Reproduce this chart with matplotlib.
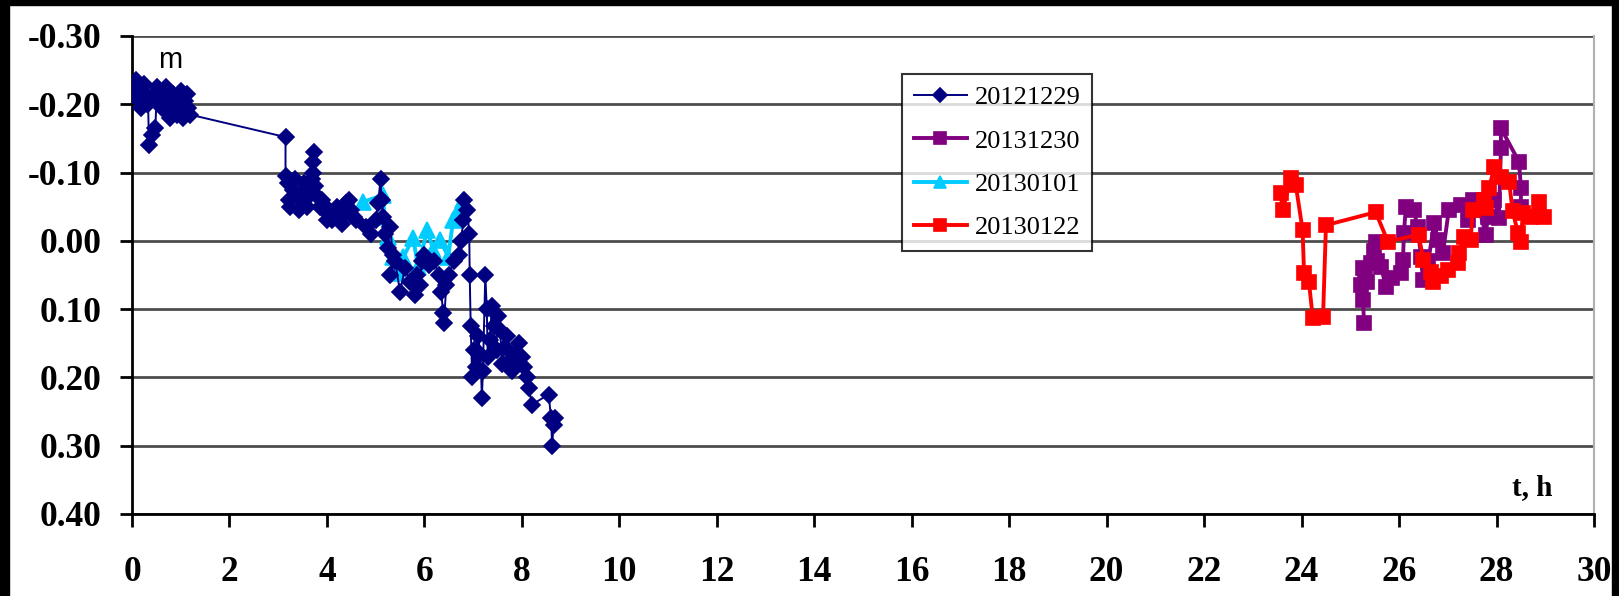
import matplotlib
matplotlib.use("Agg")
import matplotlib.pyplot as plt
from matplotlib.ticker import FormatStrFormatter
from matplotlib.patches import Rectangle

# Series 20121229 (time in hours, displacement in m)
t_1229 = [0.00, 0.05, 0.08, 0.12, 0.15, 0.18, 0.22, 0.25, 0.28, 0.30,
          0.33, 0.35, 0.42, 0.48, 0.50, 0.52, 0.58, 0.62, 0.65, 0.70,
          0.72, 0.78, 0.80, 0.85, 0.88, 0.92, 0.95, 1.00, 1.02, 1.05,
          1.08, 1.12, 1.15, 1.18,
          3.15, 3.15, 3.20, 3.22, 3.25, 3.30, 3.35, 3.38, 3.42, 3.48,
          3.52, 3.55, 3.60, 3.65, 3.70, 3.72, 3.72, 3.73, 3.75, 3.80,
          3.85, 3.90, 3.95, 4.00, 4.05, 4.10, 4.15, 4.20, 4.25, 4.30,
          4.35, 4.40, 4.45, 4.50, 4.55, 4.60,
          4.80, 4.90, 5.00, 5.05, 5.10, 5.12, 5.15, 5.20, 5.25, 5.30,
          5.35, 5.30, 5.40, 5.50, 5.60, 5.70, 5.80, 5.85, 5.90, 5.95,
          6.00, 6.10, 6.20, 6.30, 6.35, 6.38, 6.40, 6.45, 6.50, 6.60,
          6.70, 6.75, 6.80, 6.82, 6.88, 6.92, 6.93, 6.95, 6.98, 7.02,
          7.05, 7.10, 7.15, 7.18, 7.20, 7.25, 7.28, 7.30, 7.35, 7.38,
          7.42, 7.48, 7.50, 7.55, 7.60, 7.65, 7.70, 7.75, 7.80, 7.85,
          7.90, 7.95, 8.00, 8.05, 8.10, 8.15, 8.20, 8.55, 8.60, 8.62,
          8.65, 8.68]
v_1229 = [-0.215, -0.225, -0.235, -0.220, -0.205, -0.195, -0.210, -0.230, -0.215, -0.200,
          -0.200, -0.140, -0.155, -0.165, -0.205, -0.225, -0.220, -0.195, -0.210, -0.225,
          -0.190, -0.180, -0.200, -0.215, -0.195, -0.185, -0.205, -0.220, -0.195, -0.180,
          -0.205, -0.215, -0.195, -0.185,
          -0.152, -0.095, -0.085, -0.060, -0.050, -0.075, -0.090, -0.065, -0.045, -0.070,
          -0.085, -0.060, -0.050, -0.075, -0.090, -0.100, -0.115, -0.130, -0.080, -0.065,
          -0.050, -0.060, -0.045, -0.030, -0.045, -0.030, -0.040, -0.050, -0.035, -0.025,
          -0.040, -0.055, -0.060, -0.045, -0.035, -0.030,
          -0.020, -0.010, -0.030, -0.055, -0.090, -0.060, -0.035, -0.010, 0.010, -0.020,
          0.020, 0.050, 0.030, 0.075, 0.040, 0.060, 0.080, 0.050, 0.065, 0.030,
          0.020, 0.035, 0.030, 0.050, 0.075, 0.105, 0.120, 0.065, 0.050, 0.030,
          0.020, 0.000, -0.030, -0.060, -0.045, -0.010, 0.050, 0.125, 0.200, 0.160,
          0.185, 0.140, 0.165, 0.230, 0.190, 0.050, 0.100, 0.170, 0.145, 0.095,
          0.125, 0.160, 0.110, 0.130, 0.180, 0.155, 0.140, 0.175, 0.190, 0.165,
          0.180, 0.150, 0.170, 0.185, 0.200, 0.215, 0.240, 0.225, 0.260, 0.300,
          0.270, 0.260]

# Series 20131230
t_1230 = [25.28, 25.26, 25.22, 25.30, 25.25, 25.35, 25.42, 25.48, 25.52, 25.55,
          25.63, 25.73, 25.85, 26.04, 26.08, 26.10, 26.14, 26.30, 26.38, 26.45,
          26.49, 26.60, 26.72, 26.80, 26.90, 27.02, 27.27, 27.41, 27.51, 27.65,
          27.78, 27.82, 27.95, 28.05, 28.09, 28.09, 28.46, 28.50, 28.50]
v_1230 = [0.120, 0.086, 0.065, 0.052, 0.040, 0.060, 0.032, 0.015, 0.001, 0.030,
          0.038, 0.067, 0.055, 0.047, 0.028, -0.012, -0.050, -0.045, -0.021, 0.023,
          0.057, 0.030, -0.026, -0.001, 0.018, -0.045, -0.052, -0.031, -0.060, -0.045,
          -0.009, -0.035, -0.060, -0.034, -0.136, -0.165, -0.116, -0.078, -0.050]

# Series 20130101
t_0101 = [4.74, 5.15, 5.18, 5.26, 5.36, 5.44, 5.57, 5.77, 5.87, 6.06,
          6.18, 6.32, 6.49, 6.59, 6.73, 6.80]
v_0101 = [-0.057, -0.067, -0.035, -0.006, 0.023, 0.047, 0.023, -0.004, 0.038, -0.016,
          0.013, -0.001, 0.023, -0.031, -0.050, -0.060]

# Series 20130122
t_0122 = [23.57, 23.61, 23.78, 23.88, 24.02, 24.05, 24.15, 24.23, 24.44, 24.50,
          25.52, 25.77, 26.40, 26.50, 26.65, 26.70, 26.86, 27.00, 27.20, 27.23,
          27.33, 27.47, 27.51, 27.74, 27.78, 27.85, 27.95, 28.09, 28.26, 28.33,
          28.44, 28.50, 28.54, 28.70, 28.87, 28.97]
v_0122 = [-0.070, -0.045, -0.092, -0.082, -0.016, 0.047, 0.060, 0.113, 0.111, -0.023,
          -0.042, 0.001, -0.009, 0.028, 0.045, 0.060, 0.052, 0.042, 0.032, 0.018,
          -0.006, -0.001, -0.045, -0.060, -0.048, -0.077, -0.108, -0.094, -0.086, -0.043,
          -0.012, 0.001, -0.041, -0.035, -0.057, -0.035]

x_ticks = list(range(0, 31, 2))
y_ticks = [-0.30, -0.20, -0.10, 0.00, 0.10, 0.20, 0.30, 0.40]

fig = plt.figure(figsize=(16.19, 5.96), dpi=100, facecolor="white")
ax = fig.add_axes([132 / 1619, 1 - 514 / 596, (1594 - 132) / 1619, (514 - 36) / 596])

# black frame around the left, top and right edges of the figure
fig.patches.append(Rectangle((0, 0), 9 / 1619, 1, transform=fig.transFigure,
                             color="black", zorder=0))
fig.patches.append(Rectangle((0, 1 - 5 / 596), 1, 5 / 596, transform=fig.transFigure,
                             color="black", zorder=0))
fig.patches.append(Rectangle((1 - 7 / 1619, 0), 7 / 1619, 1, transform=fig.transFigure,
                             color="black", zorder=0))

ax.plot(t_1229, v_1229, color="#000080", lw=1.4, marker="D", ms=8.5, mew=1.2,
        label="20121229", zorder=5)
ax.plot(t_1230, v_1230, color="#800080", lw=2.8, marker="s", ms=10, mew=1.2,
        label="20131230", zorder=3)
ax.plot(t_0101, v_0101, color="#00CCFF", lw=2.8, marker="^", ms=11, mew=1.2,
        label="20130101", zorder=4)
ax.plot(t_0122, v_0122, color="#FF0000", lw=2.8, marker="s", ms=10.5, mew=1.2,
        label="20130122", zorder=4)

ax.set_xlim(0, 30)
ax.set_ylim(0.40, -0.30)
ax.set_xticks(x_ticks)
ax.set_yticks(y_ticks)
ax.yaxis.set_major_formatter(FormatStrFormatter("%.2f"))
ax.grid(axis="y", color="#4d4d4d", lw=2.0)
ax.set_axisbelow(True)

for side in ("left", "bottom"):
    ax.spines[side].set_color("black")
    ax.spines[side].set_linewidth(2.0)
ax.spines["top"].set_visible(False)
ax.spines["right"].set_color("#b0b0b0")
ax.spines["right"].set_linewidth(1.5)

ax.tick_params(axis="both", direction="out", length=9, width=2.0, color="black")
ax.tick_params(axis="y", pad=13)
ax.tick_params(axis="x", pad=21)
for lab in ax.get_xticklabels() + ax.get_yticklabels():
    lab.set_fontfamily("Liberation Serif")
    lab.set_fontweight("bold")
    lab.set_fontsize(25.5)

ax.text(0.018, 0.95, "m", transform=ax.transAxes, fontfamily="Liberation Sans",
        fontsize=21, ha="left", va="center")
ax.text(0.958, 0.055, "t, h", transform=ax.transAxes, fontfamily="Liberation Serif",
        fontweight="bold", fontsize=21, ha="center", va="center")

leg = ax.legend(loc="upper left", bbox_to_anchor=(902 / 1619, 1 - 74 / 596),
                bbox_transform=fig.transFigure, frameon=True, fancybox=False,
                prop={"family": "Liberation Serif", "size": 19},
                handlelength=2.0, handletextpad=0.3, labelspacing=0.75,
                borderpad=0.45, borderaxespad=0, markerscale=0.85)
leg.get_frame().set_edgecolor("black")
leg.get_frame().set_linewidth(1.5)

fig.savefig("out.png", dpi=100, facecolor="white")
